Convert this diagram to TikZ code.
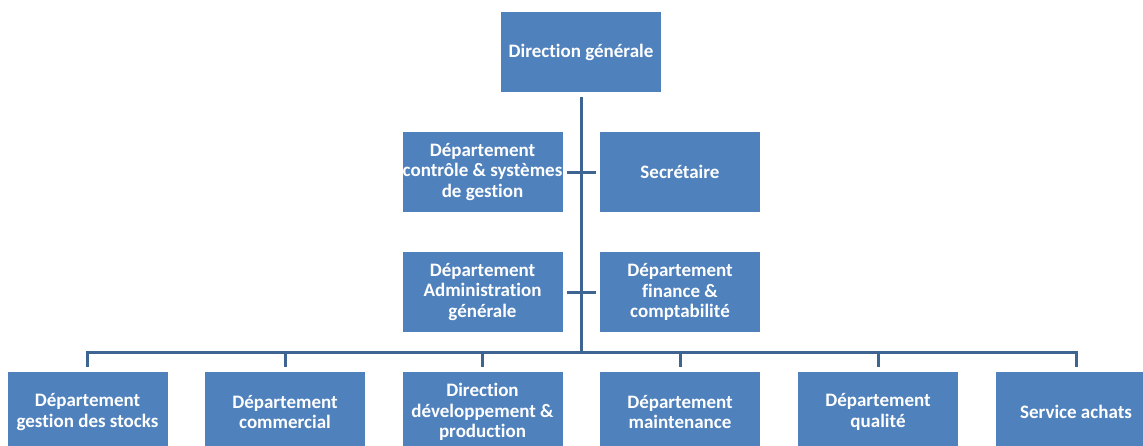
\documentclass[tikz,border=0pt]{standalone}
\usepackage{fontspec}
\setmainfont{Carlito}[Ligatures={NoCommon}]
\definecolor{boxblue}{HTML}{4F81BD}
\definecolor{linkblue}{HTML}{3E6491}
\begin{document}
\begin{tikzpicture}[x=1pt,y=-1pt,
  orgbox/.style={fill=boxblue,text=white,minimum width=160pt,minimum height=80pt,
    align=center,inner sep=0pt,
    font=\fontsize{19}{20.8}\selectfont\bfseries},
  link/.style={draw=linkblue,line width=3pt}]
\useasboundingbox (0,0) rectangle (1143,445);
% boxes
\node[orgbox] (dg) at (581,52) {Direction générale};
\node[orgbox] (dcsg) at (482.5,172) {Département\\contrôle \& systèmes\\de gestion};
\node[orgbox] (sec) at (680,172) {Secrétaire};
\node[orgbox] (dag) at (482.5,292) {Département\\Administration\\générale};
\node[orgbox] (dfc) at (680,292) {Département\\finance \&\\comptabilité};
\node[orgbox] (b1) at (87.5,412) {Département\\gestion des stocks};
\node[orgbox] (b2) at (285,412) {Département\\commercial};
\node[orgbox] (b3) at (482.5,412) {Direction\\développement \&\\production};
\node[orgbox] (b4) at (680,412) {Département\\maintenance};
\node[orgbox] (b5) at (878,412) {Département\\qualité};
\node[orgbox] (b6) at (1076,412) {Service achats};
\coordinate (bus) at (581,352);
% connectors
\draw[link,shorten <=5pt] (dg.south) -- (bus);
\draw[link,shorten <=4pt,shorten >=4pt] (dcsg.east) -- (sec.west);
\draw[link,shorten <=4pt,shorten >=4pt] (dag.east) -- (dfc.west);
\foreach \b in {b1,b2,b3,b4,b5,b6}
  \draw[link,shorten <=5pt,line join=miter] (\b.north) |- (bus);
\end{tikzpicture}
\end{document}
